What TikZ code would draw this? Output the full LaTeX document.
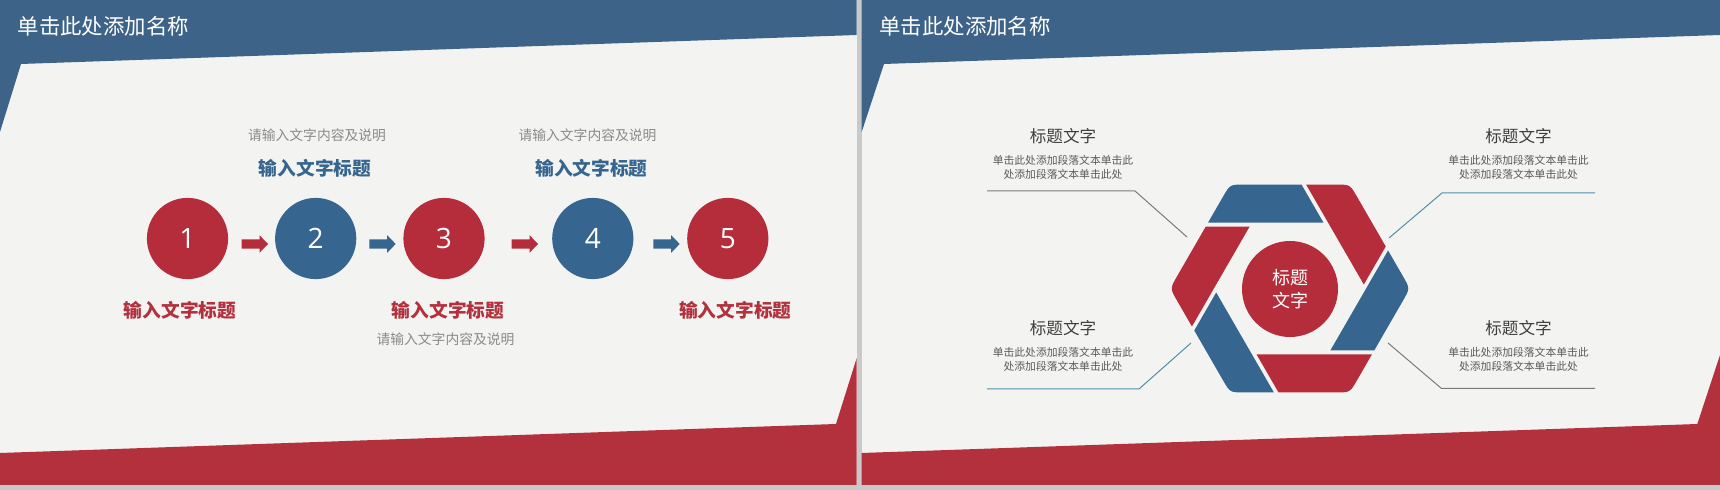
\documentclass[tikz,border=0pt]{standalone}
\usepackage{fontspec}
\setmainfont{Noto Sans CJK SC}
\newfontfamily\numfont{Open Sans}
\definecolor{barblue}{HTML}{3D6389}
\definecolor{barred}{HTML}{B3303D}
\definecolor{paper}{HTML}{F3F4F2}
\definecolor{sepgray}{HTML}{C9C9C9}
\definecolor{cred}{HTML}{B52D3B}
\definecolor{cblue}{HTML}{36658F}
\definecolor{graytxt}{HTML}{8A8A8A}
\definecolor{darktxt}{HTML}{3F3F3F}
\definecolor{paratxt}{HTML}{5A5A5A}
\definecolor{linegray}{HTML}{7A7A7A}
\definecolor{lineteal}{HTML}{4E8FAA}
\begin{document}
\begin{tikzpicture}[x=0.5pt,y=-0.5pt,
  descr/.style={text=graytxt,font=\fontsize{6.9}{8}\selectfont,inner sep=0},
  headblue/.style={text=cblue,font=\bfseries\fontsize{9.35}{11}\selectfont,inner sep=0},
  headred/.style={text=barred,font=\bfseries\fontsize{9.35}{11}\selectfont,inner sep=0},
  stepcircle/.style={circle,minimum size=40.6pt,inner sep=0,text=white,font=\numfont\fontsize{14}{16}\selectfont},
  rtitle/.style={text=darktxt,font=\fontsize{8.3}{10}\selectfont,inner sep=0},
  rpara/.style={text=paratxt,font=\fontsize{5.4}{6.65}\selectfont,align=center,inner sep=0},
  callgray/.style={draw=linegray,line width=0.5pt},
  callteal/.style={draw=lineteal,line width=0.5pt}]
\useasboundingbox (0,0) rectangle (1720,490);
% background
\fill[sepgray] (0,0) rectangle (1720,490);
% left panel
\fill[paper] (0,0) rectangle (856.7,485);
\fill[barblue] (0,0) -- (856.7,0) -- (856.7,35) -- (21,64) -- (0,132) -- cycle;
\fill[barred] (0,453) -- (836,424) -- (856.7,358) -- (856.7,485) -- (0,485) -- cycle;
% right panel
\fill[paper] (861.7,0) rectangle (1720,485);
\fill[barblue] (861.7,0) -- (1720,0) -- (1720,35) -- (884,64) -- (861.7,132) -- cycle;
\fill[barred] (861.7,453) -- (1697.3,424) -- (1720,355) -- (1720,485) -- (861.7,485) -- cycle;
% titles
\node[anchor=west,inner sep=0,text=white,font=\fontsize{10.7}{12}\selectfont] (t1) at (17.3,26.7) {单击此处添加名称};
\node[anchor=west,inner sep=0,text=white,font=\fontsize{10.7}{12}\selectfont] (t2) at (879,26.7) {单击此处添加名称};
% left: circles
\node[stepcircle,fill=cred] (c1) at (187.5,238.5) {1};
\node[stepcircle,fill=cblue] (c2) at (315.7,238.5) {2};
\node[stepcircle,fill=cred] (c3) at (444,238.5) {3};
\node[stepcircle,fill=cblue] (c4) at (592.8,238.5) {4};
\node[stepcircle,fill=cred] (c5) at (727.8,238.5) {5};
% arrows
\foreach \a/\c [count=\i] in {241.7/cred,369.3/cblue,511.7/cred,653.3/cblue}{
  \coordinate (a\i) at (\a,244);
  \fill[\c] (a\i) ++(0,-4.7) -- ++(17.8,0) -- ++(0,-4.1) -- ++(8.6,8.8) -- ++(-8.6,8.8) -- ++(0,-4.1) -- ++(-17.8,0) -- cycle;
}
% left texts
\node[descr] (d2) at (317,135) {请输入文字内容及说明};
\node[headblue] (h2) at (315,168.5) {输入文字标题};
\node[descr] (d4) at (587.5,135) {请输入文字内容及说明};
\node[headblue] (h4) at (591.5,168.5) {输入文字标题};
\node[headred] (h1) at (180,310) {输入文字标题};
\node[headred] (h3) at (448,310) {输入文字标题};
\node[descr] (d3) at (445.5,339.3) {请输入文字内容及说明};
\node[headred] (h5) at (735.3,310) {输入文字标题};
% right: hexagon pinwheel
\foreach \k/\col in {0/cblue,1/cred,2/cblue,3/cred,4/cblue,5/cred}{
  \fill[\col,shift={(1290,288.5)},rotate=60*\k]
    (-81.94,-65.92) -- (-67,-91.8) .. controls (-60,-103.92) .. (-46,-103.92)
    -- (11.5,-103.92) -- (33.44,-65.92) -- cycle;
}
\node[circle,fill=cred,minimum size=48pt,inner sep=0,text=white,align=center,font=\fontsize{9}{11.5}\selectfont] (hc) at (1290,289) {标题\\文字};
% right texts
\node[rtitle] (rt1) at (1063,136) {标题文字};
\node[rpara] (rp1) at (1063,167.3) {单击此处添加段落文本单击此\\处添加段落文本单击此处};
\node[rtitle] (rt2) at (1518.5,136) {标题文字};
\node[rpara] (rp2) at (1518.5,167.3) {单击此处添加段落文本单击此\\处添加段落文本单击此处};
\node[rtitle] (rt3) at (1063,328.5) {标题文字};
\node[rpara] (rp3) at (1063,359.3) {单击此处添加段落文本单击此\\处添加段落文本单击此处};
\node[rtitle] (rt4) at (1518.5,328.5) {标题文字};
\node[rpara] (rp4) at (1518.5,359.3) {单击此处添加段落文本单击此\\处添加段落文本单击此处};
% callout lines
\coordinate (l1a) at (987,191); \coordinate (l1b) at (1135,191); \coordinate (l1c) at (1187,237);
\coordinate (l2a) at (1595,193); \coordinate (l2b) at (1442,193); \coordinate (l2c) at (1389,238);
\coordinate (l3a) at (987,389); \coordinate (l3b) at (1139,389); \coordinate (l3c) at (1191,343);
\coordinate (l4a) at (1595,388.5); \coordinate (l4b) at (1441.5,388.5); \coordinate (l4c) at (1388,343);
\draw[callgray] (l1a) -- (l1b) -- (l1c);
\draw[callteal] (l2a) -- (l2b) -- (l2c);
\draw[callteal] (l3a) -- (l3b) -- (l3c);
\draw[callgray] (l4a) -- (l4b) -- (l4c);
\end{tikzpicture}
\end{document}
